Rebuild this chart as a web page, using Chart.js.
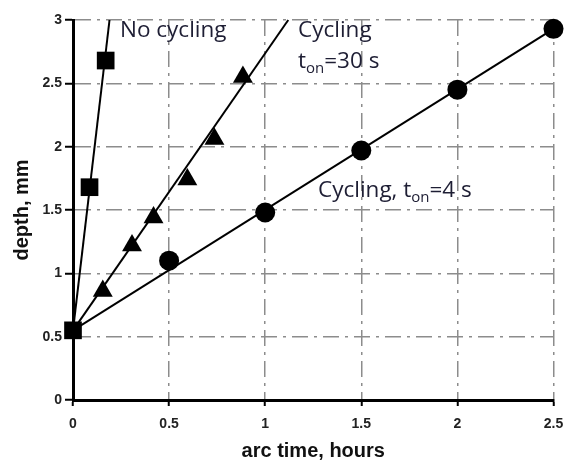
<!DOCTYPE html>
<html>
<head>
<meta charset="utf-8">
<script src="https://cdn.jsdelivr.net/npm/chart.js@4/dist/chart.umd.min.js"></script>
<style>
html,body{margin:0;padding:0;background:#fff;}
#wrap{width:566px;height:465px;position:relative;}
</style>
</head>
<body>
<div id="wrap"><canvas id="c" width="566" height="465"></canvas></div>
<script>
// ---- data ----
const xTickLabels = ['0', '0.5', '1', '1.5', '2', '2.5'];
const yTickLabels = ['0', '0.5', '1', '1.5', '2', '2.5', '3'];

const noCycX = [0, 0.086, 0.17];
const noCycY = [0.55, 1.68, 2.68];

const cyc30X = [0.155, 0.307, 0.419, 0.595, 0.736, 0.884];
const cyc30Y = [0.86, 1.22, 1.44, 1.74, 2.06, 2.55];

const cyc4X = [0.5, 1, 1.5, 2, 2.5];
const cyc4Y = [1.1, 1.48, 1.97, 2.45, 2.93];

const noCycFitX = [0, 0.19];
const noCycFitY = [0.55, 3];
const cyc30FitX = [0, 1.12];
const cyc30FitY = [0.55, 3];
const cyc4FitX = [0, 2.5];
const cyc4FitY = [0.55, 2.93];

const pts = (xs, ys) => xs.map((x, i) => ({x: x, y: ys[i]}));

const fitStyle = {showLine: true, borderColor: '#000', borderWidth: 2, pointRadius: 0, pointHoverRadius: 0, clip: false, fill: false};
const markStyle = {showLine: false, backgroundColor: '#000', borderColor: '#000', borderWidth: 0, clip: false};

const textPlugin = {
  id: 'labels',
  afterDraw(chart) {
    const ctx = chart.ctx;
    ctx.save();
    ctx.fillStyle = '#1e1e34';
    ctx.textBaseline = 'alphabetic';
    ctx.textAlign = 'left';
    const big = '22.5px "Open Sans"';
    const small = '15px "Open Sans"';
    function run(x, y, parts) {
      let cx = x;
      for (const p of parts) {
        ctx.font = p.sub ? small : big;
        ctx.fillText(p.t, cx, y + (p.sub ? 5 : 0));
        cx += ctx.measureText(p.t).width;
      }
    }
    run(120, 37, [{t: 'No cycling'}]);
    run(298, 37, [{t: 'Cycling'}]);
    run(298, 68, [{t: 't'}, {t: 'on', sub: true}, {t: '=30 s'}]);
    run(318, 197, [{t: 'Cycling, t'}, {t: 'on', sub: true}, {t: '=4 s'}]);
    ctx.restore();
  }
};

new Chart(document.getElementById('c'), {
  type: 'scatter',
  data: {
    datasets: [
      Object.assign({data: pts(noCycFitX, noCycFitY)}, fitStyle),
      Object.assign({data: pts(cyc30FitX, cyc30FitY)}, fitStyle),
      Object.assign({data: pts(cyc4FitX, cyc4FitY)}, fitStyle),
      Object.assign({data: pts(noCycX, noCycY), pointStyle: 'rect', pointRadius: 12.5}, markStyle),
      Object.assign({data: pts(cyc30X, cyc30Y), pointStyle: 'triangle', pointRadius: 11.5}, markStyle),
      Object.assign({data: pts(cyc4X, cyc4Y), pointStyle: 'circle', pointRadius: 10}, markStyle)
    ]
  },
  options: {
    responsive: false,
    animation: false,
    events: [],
    layout: {padding: {top: 20, right: 9, left: 0, bottom: 0}},
    plugins: {legend: {display: false}, tooltip: {enabled: false}},
    scales: {
      x: {
        type: 'linear', min: 0, max: 2.5,
        afterFit(s) { s.height = 65; s.paddingRight = 0; s.paddingLeft = 0; },
        afterBuildTicks(s) { s.ticks = xTickLabels.map(v => ({value: parseFloat(v)})); },
        ticks: {
          callback: (v, i) => xTickLabels[i],
          font: {family: '"Liberation Sans", Arial', size: 14, weight: 'bold'},
          color: '#222', padding: 10, maxRotation: 0, autoSkip: false
        },
        grid: {color: '#8c8c8c', lineWidth: 1.5, tickColor: '#000', tickWidth: 2, tickLength: 6, tickBorderDash: []},
        border: {color: '#000', width: 3, dash: [16, 6, 3, 6]},
        title: {display: true, text: 'arc time, hours', color: '#111',
          font: {family: '"Liberation Sans", Arial', size: 20, weight: 'bold'}, padding: {top: 0, bottom: 2}}
      },
      y: {
        type: 'linear', min: 0, max: 3,
        afterFit(s) { s.width = 73; },
        afterBuildTicks(s) { s.ticks = yTickLabels.map(v => ({value: parseFloat(v)})); },
        ticks: {
          callback: (v, i) => yTickLabels[i],
          font: {family: '"Liberation Sans", Arial', size: 14, weight: 'bold'},
          color: '#222', padding: 3, autoSkip: false
        },
        grid: {color: '#8c8c8c', lineWidth: 1.5, tickColor: '#000', tickWidth: 2, tickLength: 8, tickBorderDash: []},
        border: {color: '#000', width: 3, dash: [16, 6, 3, 6]},
        title: {display: true, text: 'depth, mm', color: '#111',
          font: {family: '"Liberation Sans", Arial', size: 20, weight: 'bold'}, padding: {top: 10, bottom: 0}}
      }
    }
  },
  plugins: [textPlugin]
});
</script>
</body>
</html>
